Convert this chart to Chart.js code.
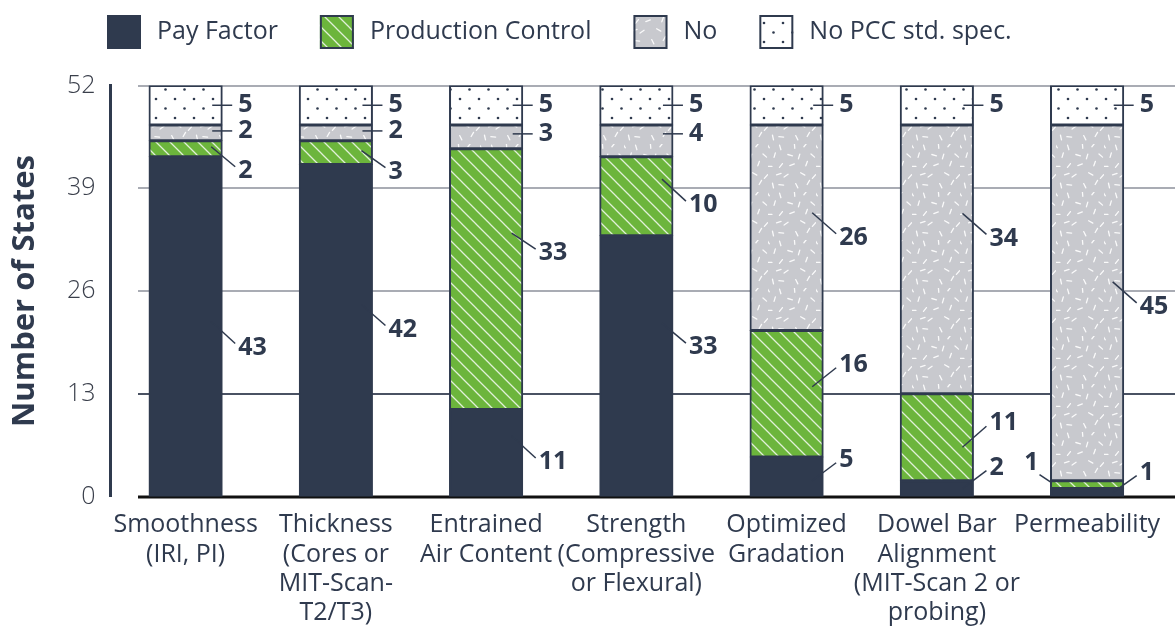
<!DOCTYPE html>
<html>
<head>
<meta charset="utf-8">
<title>Number of States</title>
<script src="https://cdn.jsdelivr.net/npm/chart.js@4.4.0/dist/chart.umd.min.js"></script>
<style>
  html, body { margin: 0; padding: 0; background: #fff; }
  #wrap { width: 1175px; height: 633px; position: relative; }
</style>
</head>
<body>
<div id="wrap"><canvas id="chart"></canvas></div>
<script>
// data
const categories = [
  ['Smoothness', '(IRI, PI)'],
  ['Thickness', '(Cores or', 'MIT-Scan-', 'T2/T3)'],
  ['Entrained', 'Air Content'],
  ['Strength', '(Compressive', 'or Flexural)'],
  ['Optimized', 'Gradation'],
  ['Dowel Bar', 'Alignment', '(MIT-Scan 2 or', 'probing)'],
  ['Permeability']
];
const payFactor = [43, 42, 11, 33, 5, 2, 1];
const productionControl = [2, 3, 33, 10, 16, 11, 1];
const noSpec = [2, 2, 3, 4, 26, 34, 45];
const noPccStd = [5, 5, 5, 5, 5, 5, 5];
const yTicks = [0, 13, 26, 39, 52];

// label placement: [label dy, leader start dy, side] relative to segment middle
const labelNudges = {
  pay:   [[21, -5], [-1, -26], [9, -17], [-19, -43], [-17, 4], [-21, 0], [-20, 0]],
  pc:    [[22, -2], [19, -2], [-26, -46], [9, -17], [-29, -7], [-14, 10], [-22, -2, 'left']],
  no:    [[-2, -2], [-2, -2], [-3, -3], [-7, -7], [10, -15], [-21, -46], [4, -21]],
  noPcc: [[0, 0], [0, 0], [0, 0], [0, 0], [0, 0], [0, 0], [0, 0]]
};

const FONT = '"Open Sans", "Noto Sans", sans-serif';
const NAVY = '#2f3a4e';
const GREEN = '#6cb53c';
const GRAY = '#c8c9ce';

// fill patterns
function makeHatch() {
  const n = 14;
  const c = document.createElement('canvas');
  c.width = n; c.height = n;
  const g = c.getContext('2d');
  g.fillStyle = GREEN;
  g.fillRect(0, 0, n, n);
  g.strokeStyle = 'rgba(255,255,255,0.8)';
  g.lineWidth = 1.3;
  g.beginPath();
  g.moveTo(-2, -2); g.lineTo(n + 2, n + 2);
  g.moveTo(-2, n - 2); g.lineTo(2, n + 2);
  g.moveTo(n - 2, -2); g.lineTo(n + 2, 2);
  g.stroke();
  return g.createPattern(c, 'repeat');
}

function makeSpeckle() {
  const c = document.createElement('canvas');
  c.width = 48; c.height = 48;
  const g = c.getContext('2d');
  g.fillStyle = GRAY;
  g.fillRect(0, 0, 48, 48);
  g.strokeStyle = 'rgba(255,255,255,0.9)';
  g.lineWidth = 1.3;
  g.lineCap = 'round';
  let s = 11;
  const next = () => { s = (s * 16807) % 2147483647; return s / 2147483647; };
  // texture only: a fixed grid of short dashes, jittered and turned
  for (let r = 0; r < 5; r++) {
    for (let k = 0; k < 4; k++) {
      const x = k * 12 + (r % 2) * 6 + next() * 5;
      const y = r * 9.6 + next() * 4;
      const a = next() * Math.PI;
      const dx = Math.cos(a) * 2.4, dy = Math.sin(a) * 2.4;
      g.beginPath();
      g.moveTo(x - dx, y - dy); g.lineTo(x + dx, y + dy);
      g.stroke();
    }
  }
  return g.createPattern(c, 'repeat');
}

function makeDots() {
  const c = document.createElement('canvas');
  c.width = 19; c.height = 19;
  const g = c.getContext('2d');
  g.fillStyle = '#ffffff';
  g.fillRect(0, 0, 19, 19);
  g.fillStyle = NAVY;
  [[4, 4], [13.5, 13.5]].forEach(([x, y]) => {
    g.beginPath(); g.arc(x, y, 1.3, 0, Math.PI * 2); g.fill();
  });
  return g.createPattern(c, 'repeat');
}

// gridlines start a bit right of the axis line
const gridBehind = {
  id: 'gridBehind',
  beforeDatasetsDraw(chart) {
    const { ctx, chartArea, width } = chart;
    const y = chart.scales.y;
    ctx.save();
    yTicks.forEach(v => {
      const py = Math.round(y.getPixelForValue(v));
      ctx.beginPath();
      ctx.strokeStyle = v === 0 ? '#111111' : (v === 13 ? '#4a5263' : '#a9acb4');
      ctx.lineWidth = v === 0 ? 3 : 2;
      ctx.moveTo(chartArea.left + 27.5, py);
      ctx.lineTo(width, py);
      ctx.stroke();
    });
    ctx.restore();
  }
};

// value labels with leader lines
const leaderLabels = {
  id: 'leaderLabels',
  afterDatasetsDraw(chart) {
    const ctx = chart.ctx;
    ctx.save();
    ctx.font = `bold 25px ${FONT}`;
    ctx.fillStyle = NAVY;
    ctx.strokeStyle = NAVY;
    ctx.lineWidth = 1.5;
    ctx.textBaseline = 'middle';
    chart.data.datasets.forEach((ds, di) => {
      const meta = chart.getDatasetMeta(di);
      const nudges = labelNudges[ds.key];
      meta.data.forEach((bar, j) => {
        const v = ds.data[j];
        const mid = (bar.y + bar.base) / 2;
        const right = bar.x + bar.width / 2;
        const left = bar.x - bar.width / 2;
        const [dy, sy, side] = nudges[j];
        const ly = mid + dy;
        ctx.beginPath();
        if (side === 'left') {
          ctx.moveTo(left + 1, mid + sy);
          ctx.lineTo(left - 11, ly + 12);
          ctx.stroke();
          ctx.textAlign = 'right';
          ctx.fillText(String(v), left - 12, ly);
          return;
        }
        if (dy === sy) {
          ctx.moveTo(right - 10, ly);
          ctx.lineTo(right + 10, ly);
        } else {
          ctx.moveTo(right - 11, mid + sy);
          ctx.lineTo(right + 13, ly + (sy < dy ? -4 : 3));
        }
        ctx.stroke();
        ctx.textAlign = 'left';
        ctx.fillText(String(v), right + 16, ly);
      });
    });
    ctx.restore();
  }
};

// legend row at the top
const topLegend = {
  id: 'topLegend',
  afterDraw(chart) {
    const ctx = chart.ctx;
    const top = 15, size = 34;
    let x = 107;
    ctx.save();
    ctx.font = `25px ${FONT}`;
    ctx.textBaseline = 'middle';
    ctx.textAlign = 'left';
    chart.data.datasets.forEach(ds => {
      ctx.fillStyle = ds.backgroundColor;
      ctx.fillRect(x, top, size, size);
      ctx.lineWidth = 2;
      ctx.strokeStyle = NAVY;
      ctx.strokeRect(x + 1, top + 1, size - 2, size - 2);
      x += size + 16;
      ctx.fillStyle = NAVY;
      ctx.fillText(ds.label, x, top + size / 2);
      x += ctx.measureText(ds.label).width + 42;
    });
    ctx.restore();
  }
};

const barStyle = {
  borderColor: NAVY,
  borderWidth: 2,
  borderSkipped: false,
  inflateAmount: 0.5,
  categoryPercentage: 1,
  barPercentage: 0.487
};

new Chart(document.getElementById('chart').getContext('2d'), {
  type: 'bar',
  data: {
    labels: categories,
    datasets: [
      { key: 'pay', label: 'Pay Factor', data: payFactor, backgroundColor: NAVY, ...barStyle },
      { key: 'pc', label: 'Production Control', data: productionControl, backgroundColor: makeHatch(), ...barStyle },
      { key: 'no', label: 'No', data: noSpec, backgroundColor: makeSpeckle(), ...barStyle },
      { key: 'noPcc', label: 'No PCC std. spec.', data: noPccStd, backgroundColor: makeDots(), ...barStyle }
    ]
  },
  options: {
    responsive: true,
    maintainAspectRatio: false,
    animation: false,
    layout: { padding: { top: 85.5, right: 12.5, left: 0, bottom: 0 } },
    plugins: {
      legend: { display: false },
      tooltip: { enabled: false }
    },
    scales: {
      x: {
        stacked: true,
        grid: { display: false, drawTicks: false },
        border: { display: false },
        ticks: {
          color: NAVY,
          font: { family: FONT, size: 25, lineHeight: 1.17 },
          padding: 14,
          maxRotation: 0,
          autoSkip: false
        },
        afterFit(scale) { scale.height = 136.5; }
      },
      y: {
        stacked: true,
        min: 0,
        max: 52,
        grid: { display: false, drawTicks: false },
        border: { display: true, color: NAVY, width: 3 },
        ticks: {
          stepSize: 13,
          padding: 15,
          color: '#3a3f4b',
          font: { family: FONT, size: 25, weight: 300 }
        },
        title: {
          display: true,
          text: 'Number of States',
          color: NAVY,
          font: { family: FONT, size: 31, weight: 'bold' },
          padding: { top: 7 }
        },
        afterFit(scale) { scale.width = 110.5; }
      }
    }
  },
  plugins: [gridBehind, leaderLabels, topLegend]
});
</script>
</body>
</html>
